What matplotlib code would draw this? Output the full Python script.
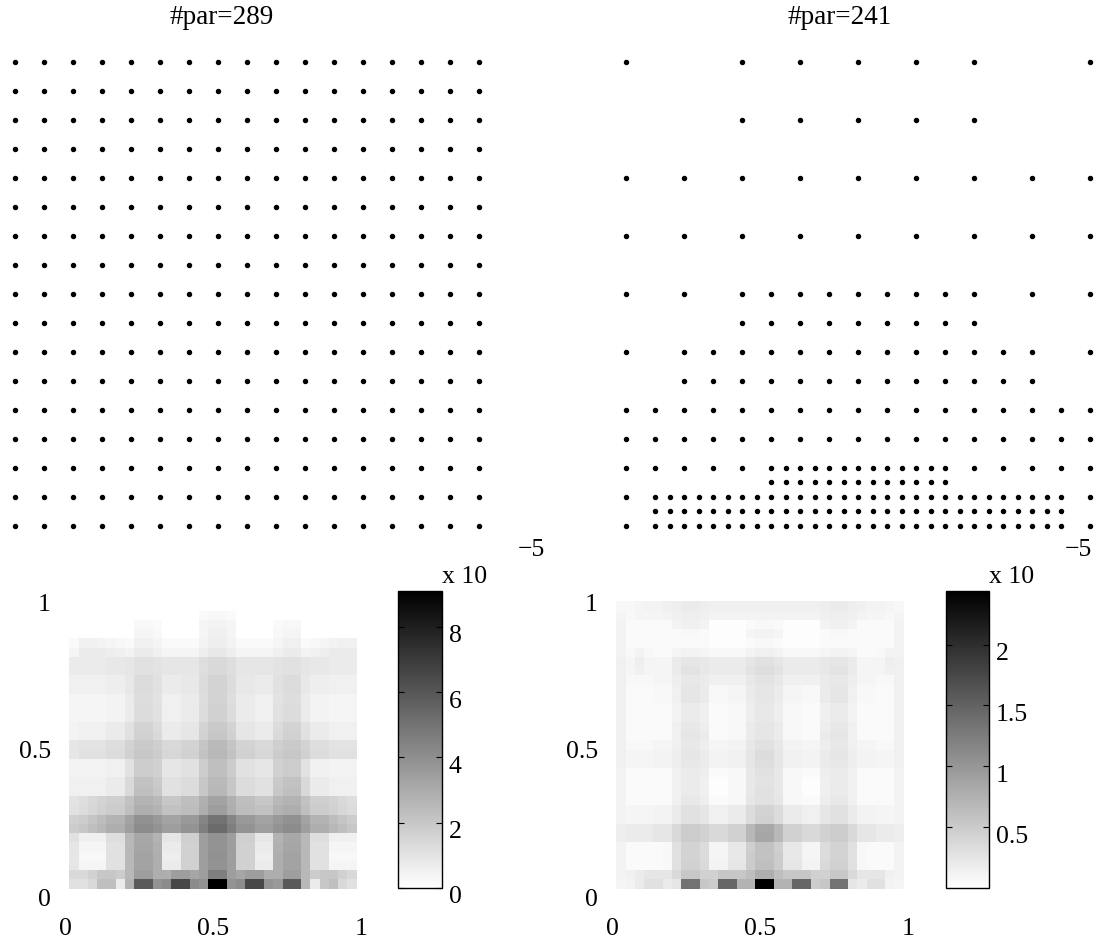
import numpy as np
import matplotlib
matplotlib.use("Agg")
import matplotlib.pyplot as plt
from matplotlib.transforms import ScaledTranslation

plt.rcParams['font.family'] = ['Liberation Serif', 'DejaVu Serif']

# ---------------- data ----------------
titles = ["#par=289", "#par=241"]

# full tensor grid (17 x 17 = 289 points), coordinates on [0,1]
full_levels = [0.0, 0.0625, 0.125, 0.1875, 0.25, 0.3125, 0.375, 0.4375, 0.5,
               0.5625, 0.625, 0.6875, 0.75, 0.8125, 0.875, 0.9375, 1.0]

# adaptive grid (241 points): row index (in 1/32) -> column indices (in 1/32)
adaptive_rows = {
    32: [0, 8, 12, 16, 20, 24, 32],
    28: [8, 12, 16, 20, 24],
    24: [0, 4, 8, 12, 16, 20, 24, 28, 32],
    20: [0, 4, 8, 12, 16, 20, 24, 28, 32],
    16: [0, 4, 8, 10, 12, 14, 16, 18, 20, 22, 24, 28, 32],
    14: [8, 10, 12, 14, 16, 18, 20, 22, 24],
    12: [0, 4, 6, 8, 10, 12, 14, 16, 18, 20, 22, 24, 26, 28, 32],
    10: [4, 6, 8, 10, 12, 14, 16, 18, 20, 22, 24, 26, 28],
    8: [0, 2, 4, 6, 8, 10, 12, 14, 16, 18, 20, 22, 24, 26, 28, 30, 32],
    6: [0, 2, 4, 6, 8, 10, 12, 14, 16, 18, 20, 22, 24, 26, 28, 30, 32],
    4: [0, 2, 4, 6, 8, 10, 11, 12, 13, 14, 15, 16, 17, 18, 19, 20, 21, 22,
        24, 26, 28, 30, 32],
    3: [10, 11, 12, 13, 14, 15, 16, 17, 18, 19, 20, 21, 22],
    2: [0, 2, 3, 4, 5, 6, 7, 8, 9, 10, 11, 12, 13, 14, 15, 16, 17, 18, 19,
        20, 21, 22, 23, 24, 25, 26, 27, 28, 29, 30, 32],
    1: [2, 3, 4, 5, 6, 7, 8, 9, 10, 11, 12, 13, 14, 15, 16, 17, 18, 19, 20,
        21, 22, 23, 24, 25, 26, 27, 28, 29, 30],
    0: [0, 2, 3, 4, 5, 6, 7, 8, 9, 10, 11, 12, 13, 14, 15, 16, 17, 18, 19,
        20, 21, 22, 23, 24, 25, 26, 27, 28, 29, 30, 32],
}
adaptive_unit = 32

# heat maps: interior nodes 1..31 (bottom row first), percent of peak value
heat_left_pct = [
    "12 12 15 25 25 8 30 65 65 42 45 72 72 45 42 100 100 42 45 72 72 42 40 65 65 28 8 22 25 15 12",
    "15 15 18 22 22 20 28 38 38 32 32 38 38 35 38 50 50 38 35 38 38 32 32 38 38 28 20 22 22 18 15",
    "10 4 4 4 12 12 28 36 36 32 8 8 18 18 38 42 42 38 18 18 8 8 32 36 36 28 12 12 4 4 4",
    "10 3 3 3 12 12 28 36 36 32 7 7 18 18 38 43 43 38 18 18 7 7 32 36 36 28 12 12 3 3 3",
    "10 4 4 4 12 12 28 35 35 31 8 8 18 18 38 42 42 38 18 18 8 8 31 35 35 28 12 12 4 4 4",
    "12 6 6 6 13 13 28 34 34 30 10 10 19 19 38 42 42 38 19 19 10 10 30 34 34 28 13 13 6 6 6",
    "20 22 25 28 32 32 38 45 45 42 38 38 42 42 50 58 58 50 42 42 38 38 42 45 45 38 32 32 28 25 22",
    "18 20 23 26 30 30 36 43 43 40 36 36 40 40 48 55 55 48 40 40 36 36 40 43 43 36 30 30 26 23 20",
    "12 14 16 18 20 20 25 32 32 30 24 24 26 26 32 38 38 32 26 26 24 24 30 32 32 25 20 20 18 16 14",
    "11 13 15 17 19 19 24 30 30 28 22 22 25 25 31 36 36 31 25 25 22 22 28 30 30 24 19 19 17 15 13",
    "6 6 6 6 8 8 15 25 25 22 12 12 14 14 22 28 28 22 14 14 12 12 22 25 25 15 8 8 6 6 6",
    "6 6 6 6 8 8 15 24 24 21 12 12 14 14 22 27 27 22 14 14 12 12 21 24 24 15 8 8 6 6 6",
    "5 5 5 5 6 6 12 20 20 18 10 10 12 12 20 25 25 20 12 12 10 10 18 20 20 12 6 6 5 5 5",
    "5 5 5 5 6 6 12 20 20 18 10 10 12 12 20 25 25 20 12 12 10 10 18 20 20 12 6 6 5 5 5",
    "10 12 12 12 14 14 18 22 22 20 16 16 18 18 24 28 28 24 18 18 16 16 20 22 22 18 14 14 12 12 12",
    "10 11 11 11 13 13 17 21 21 19 15 15 17 17 23 27 27 23 17 17 15 15 19 21 21 17 13 13 11 11 11",
    "5 6 6 6 8 8 12 18 18 15 8 8 10 10 18 22 22 18 10 10 8 8 15 18 18 12 8 8 6 6 6",
    "5 6 6 6 8 8 12 17 17 14 8 8 10 10 17 21 21 17 10 10 8 8 14 17 17 12 8 8 6 6 6",
    "4 4 4 4 5 5 8 14 14 12 6 6 8 8 14 18 18 14 8 8 6 6 12 14 14 8 5 5 4 4 4",
    "4 4 4 4 5 5 8 14 14 12 6 6 8 8 14 18 18 14 8 8 6 6 12 14 14 8 5 5 4 4 4",
    "4 4 4 4 5 5 8 13 13 11 6 6 8 8 13 17 17 13 8 8 6 6 11 13 13 8 5 5 4 4 4",
    "6 6 6 6 7 7 9 14 14 12 8 8 9 9 14 17 17 14 9 9 8 8 12 14 14 9 7 7 6 6 6",
    "6 6 6 6 7 7 9 14 14 12 8 8 9 9 14 17 17 14 9 9 8 8 12 14 14 9 7 7 6 6 6",
    "8 8 8 8 9 9 10 12 12 11 10 10 10 10 13 15 15 13 10 10 10 10 11 12 12 10 9 9 8 8 8",
    "8 8 8 8 9 9 10 12 12 11 10 10 10 10 13 15 15 13 10 10 10 10 11 12 12 10 9 9 8 8 8",
    "4 8 8 8 7 6 5 8 8 6 4 4 4 4 7 9 9 7 4 4 4 4 6 8 8 5 6 7 8 8 8",
    "2 6 6 5 4 3 2 6 6 4 2 2 2 2 5 7 7 5 2 2 2 2 4 6 6 2 3 4 5 6 6",
    "0 0 0 0 0 0 0 4 4 3 0 0 0 0 4 6 6 4 0 0 0 0 3 4 4 0 0 0 0 0 0",
    "0 0 0 0 0 0 0 3 3 2 0 0 0 0 4 5 5 4 0 0 0 0 2 3 3 0 0 0 0 0 0",
    "0 0 0 0 0 0 0 0 0 0 0 0 0 0 2 3 3 2 0 0 0 0 0 0 0 0 0 0 0 0 0",
    "0 0 0 0 0 0 0 0 0 0 0 0 0 0 0 0 0 0 0 0 0 0 0 0 0 0 0 0 0 0 0",
]

heat_right_pct = [
    "4 5 8 12 12 8 10 55 55 22 20 60 60 30 30 100 100 30 30 60 60 20 22 55 55 10 8 12 12 5 4",
    "5 6 8 10 10 10 15 22 22 18 18 22 22 22 25 32 32 25 22 22 22 18 18 22 22 15 10 10 10 6 5",
    "5 2 2 2 2 3 12 18 18 15 5 5 10 10 20 25 25 20 10 10 5 5 15 18 18 12 3 2 2 2 5",
    "5 2 2 2 2 3 12 17 17 14 4 4 9 9 20 24 24 20 9 9 4 4 14 17 17 12 3 2 2 2 5",
    "5 2 2 2 2 3 12 17 17 14 4 4 9 9 19 24 24 19 9 9 4 4 14 17 17 12 3 2 2 2 5",
    "7 8 8 8 10 10 15 20 20 18 15 15 18 18 28 35 35 28 18 18 15 15 18 20 20 15 10 10 8 8 7",
    "7 8 8 8 10 10 15 20 20 18 15 15 18 18 28 34 34 28 18 18 15 15 18 20 20 15 10 10 8 8 7",
    "5 4 4 4 5 5 8 12 12 10 6 6 8 8 14 18 18 14 8 8 6 6 10 12 12 8 5 5 4 4 5",
    "5 4 4 4 5 5 8 12 12 10 6 6 8 8 14 17 17 14 8 8 6 6 10 12 12 8 5 5 4 4 5",
    "5 2 2 2 2 2 6 9 9 7 2 2 3 3 10 12 12 10 3 3 2 2 7 9 9 6 2 2 2 2 5",
    "5 2 2 2 2 2 6 8 8 6 1 1 3 3 9 12 12 9 3 3 1 1 6 8 8 6 2 2 2 2 5",
    "5 2 2 2 2 2 6 8 8 6 1 1 3 3 9 11 11 9 3 3 1 1 6 8 8 6 2 2 2 2 5",
    "5 2 2 2 2 2 6 8 8 7 2 2 3 3 9 12 12 9 3 3 2 2 7 8 8 6 2 2 2 2 5",
    "6 4 4 4 5 5 7 9 9 8 5 5 6 6 10 13 13 10 6 6 5 5 8 9 9 7 5 5 4 4 6",
    "6 4 4 4 5 5 7 10 10 8 5 5 6 6 10 14 14 10 6 6 5 5 8 10 10 7 5 5 4 4 6",
    "6 3 3 3 4 4 6 9 9 7 4 4 5 5 9 12 12 9 5 5 4 4 7 9 9 6 4 4 3 3 6",
    "6 2 2 2 2 2 6 10 10 8 2 2 3 3 8 10 10 8 3 3 2 2 8 10 10 6 2 2 2 2 6",
    "6 2 2 2 2 2 6 9 9 7 2 2 3 3 8 10 10 8 3 3 2 2 7 9 9 6 2 2 2 2 6",
    "6 2 2 2 2 2 5 8 8 6 2 2 3 3 7 9 9 7 3 3 2 2 6 8 8 5 2 2 2 2 6",
    "6 2 2 2 2 2 5 8 8 6 2 2 3 3 7 9 9 7 3 3 2 2 6 8 8 5 2 2 2 2 6",
    "6 2 2 2 3 3 6 10 10 8 3 3 4 4 8 10 10 8 4 4 3 3 8 10 10 6 3 3 2 2 6",
    "6 2 2 2 3 3 6 10 10 8 3 3 4 4 8 10 10 8 4 4 3 3 8 10 10 6 3 3 2 2 6",
    "6 3 3 3 4 4 7 9 9 8 6 6 6 6 9 11 11 9 6 6 6 6 8 9 9 7 4 4 3 3 6",
    "6 4 6 4 4 4 8 11 11 9 8 8 8 8 11 13 13 11 8 8 8 8 9 11 11 8 4 4 4 6 6",
    "6 4 7 4 4 4 8 10 10 9 8 8 8 8 10 12 12 10 8 8 8 8 9 10 10 8 4 4 4 7 6",
    "5 3 5 3 2 2 4 5 5 4 3 3 3 3 5 6 6 5 3 3 3 3 4 5 5 4 2 2 3 5 5",
    "5 2 2 2 2 2 2 2 2 2 1 1 1 1 2 3 3 2 1 1 1 1 2 2 2 2 2 2 2 2 5",
    "5 2 2 2 2 2 2 3 3 2 1 1 1 1 4 5 5 4 1 1 1 1 2 3 3 2 2 2 2 2 5",
    "5 2 2 2 2 2 5 6 6 5 1 1 1 1 2 3 3 2 1 1 1 1 5 6 6 5 2 2 2 2 5",
    "4 3 4 4 4 5 6 7 7 6 5 5 5 5 5 5 5 5 5 5 5 5 6 7 7 6 5 4 4 3 4",
    "3 3 4 5 5 6 7 8 8 7 6 6 6 6 6 6 6 6 6 6 6 6 7 8 8 7 6 5 5 4 3",
]

peak_left = 9.1e-5
peak_right = 2.44e-5

axis_ticks = [0, 0.5, 1]
axis_ticklabels = ["0", "0.5", "1"]
cbar_left_ticks = [0, 2, 4, 6, 8]
cbar_right_ticks = [0.5, 1, 1.5, 2]
cbar_right_labels = ["0.5", "1", "1.5", "2"]
cbar_scale = 1e-5

# ---------------- layout ----------------
W, H = 1098, 945
fig = plt.figure(figsize=(W / 100, H / 100), dpi=100)


def box(x0, y0, x1, y1):
    return [x0 / W, 1 - y1 / H, (x1 - x0) / W, (y1 - y0) / H]


TICK_FS = 18.5
TITLE_FS = 19.5

# ---- top: grids ----
ax_full = fig.add_axes(box(14.7, 62.7, 479.3, 526.7))
fx, fy = np.meshgrid(full_levels, full_levels)
ax_full.plot(fx.ravel(), fy.ravel(), linestyle='none', marker='o',
             ms=2.9, color='black', clip_on=False)

ax_adapt = fig.add_axes(box(626, 62.7, 1090, 526.7))
ax_list = []
ay_list = []
for yi, xs in adaptive_rows.items():
    for xi in xs:
        ax_list.append(xi / adaptive_unit)
        ay_list.append(yi / adaptive_unit)
ax_adapt.plot(ax_list, ay_list, linestyle='none', marker='o',
              ms=2.9, color='black', clip_on=False)

for a in (ax_full, ax_adapt):
    a.set_xlim(0, 1)
    a.set_ylim(0, 1)
    a.axis('off')

fig.text(222 / W, 1 - 17 / H, titles[0], ha='center', va='center', fontsize=TITLE_FS)
fig.text(840 / W, 1 - 17 / H, titles[1], ha='center', va='center', fontsize=TITLE_FS)

# ---- bottom: heat maps ----
ext = [-1 / 64, 1 + 1 / 64, -1 / 64, 1 + 1 / 64]


def shift_labels(labels, dy_px):
    off = ScaledTranslation(0, dy_px / 100.0, fig.dpi_scale_trans)
    for lab in labels:
        lab.set_transform(lab.get_transform() + off)


def heat_panel(x_off, pct_rows, peak, cb_x0, cb_x1, ticks, labels, xlab_x, exp_x):
    vals = np.array([[float(v) for v in r.split()] for r in pct_rows]) / 100.0 * peak
    full = np.zeros((vals.shape[0] + 2, vals.shape[1] + 2))
    full[1:-1, 1:-1] = vals
    ax = fig.add_axes(box(60.4 + x_off, 593.4, 365.6 + x_off, 898.6))
    im = ax.imshow(full, origin='lower', extent=ext, cmap='gray_r',
                   vmin=0, vmax=peak, interpolation='nearest', aspect='auto')
    ax.set_xlim(ext[0], ext[1])
    ax.set_ylim(ext[2], ext[3])
    ax.set_xticks(axis_ticks)
    ax.set_xticklabels(axis_ticklabels)
    ax.set_yticks(axis_ticks)
    ax.set_yticklabels(axis_ticklabels)
    ax.tick_params(length=0, labelsize=TICK_FS)
    ax.tick_params(axis='x', pad=14)
    ax.tick_params(axis='y', pad=7)
    for s in ax.spines.values():
        s.set_visible(False)
    shift_labels(ax.get_yticklabels(), -4)

    cax = fig.add_axes(box(cb_x0, 592, cb_x1, 889))
    cb = fig.colorbar(im, cax=cax)
    cb.set_ticks([t * cbar_scale for t in ticks])
    cb.set_ticklabels(labels)
    cb.outline.set_linewidth(1.0)
    cb.outline.set_edgecolor('black')
    cax.tick_params(direction='in', length=4, width=0.8, left=True, right=True,
                    labelsize=TICK_FS, pad=5)
    shift_labels(cax.get_yticklabels(), -6)
    fig.text(xlab_x / W, 1 - 577 / H, "x 10", ha='center', va='center', fontsize=TICK_FS)
    fig.text(exp_x / W, 1 - 550 / H, "\u22125", ha='center', va='center', fontsize=TICK_FS)


heat_panel(0, heat_left_pct, peak_left, 398, 442, cbar_left_ticks,
           [str(t) for t in cbar_left_ticks], 464.5, 531)
heat_panel(547, heat_right_pct, peak_right, 946, 989, cbar_right_ticks,
           cbar_right_labels, 1012, 1078)

fig.savefig("out.png", dpi=100)
